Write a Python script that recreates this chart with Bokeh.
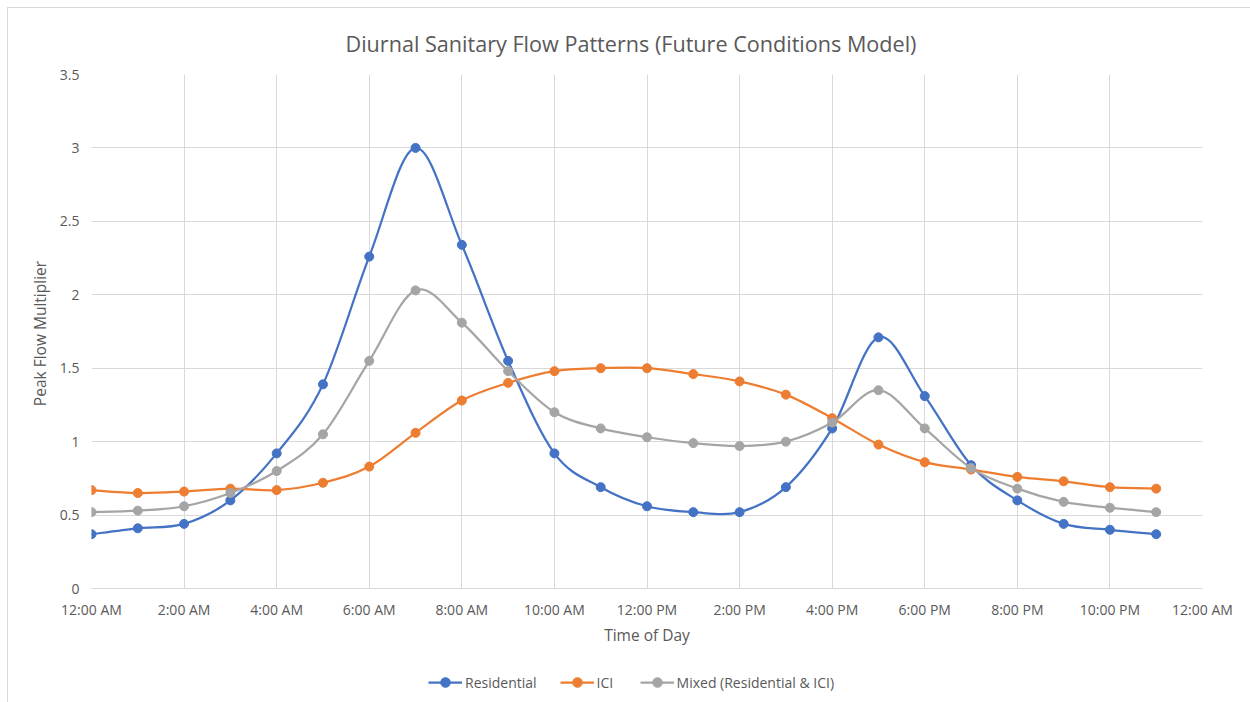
import numpy as np
from bokeh.plotting import figure
from bokeh.layouts import column
from bokeh.models import FixedTicker, Legend, LegendItem, Title
from bokeh.embed import file_html
from bokeh.resources import INLINE

# ---- data ----
hours = list(range(24))
residential = [0.37, 0.41, 0.44, 0.60, 0.92, 1.39, 2.26, 3.00, 2.34, 1.55, 0.92, 0.69,
               0.56, 0.52, 0.52, 0.69, 1.09, 1.71, 1.31, 0.84, 0.60, 0.44, 0.40, 0.37]
ici = [0.67, 0.65, 0.66, 0.68, 0.67, 0.72, 0.83, 1.06, 1.28, 1.40, 1.48, 1.50,
       1.50, 1.46, 1.41, 1.32, 1.16, 0.98, 0.86, 0.81, 0.76, 0.73, 0.69, 0.68]
mixed = [0.52, 0.53, 0.56, 0.65, 0.80, 1.05, 1.55, 2.03, 1.81, 1.48, 1.20, 1.09,
         1.03, 0.99, 0.97, 1.00, 1.13, 1.35, 1.09, 0.82, 0.68, 0.59, 0.55, 0.52]
series_names = ["Residential", "ICI", "Mixed (Residential & ICI)"]
x_ticks = [0, 2, 4, 6, 8, 10, 12, 14, 16, 18, 20, 22, 24]
x_tick_labels = ["12:00 AM", "2:00 AM", "4:00 AM", "6:00 AM", "8:00 AM", "10:00 AM",
                 "12:00 PM", "2:00 PM", "4:00 PM", "6:00 PM", "8:00 PM", "10:00 PM", "12:00 AM"]
y_ticks = [0, 0.5, 1, 1.5, 2, 2.5, 3, 3.5]

colors = ["#4472C4", "#ED7D31", "#A5A5A5"]
FONT = "Open Sans"
TXT = "#595959"
GRID = "#d9d9d9"


def smooth_segments(x, y):
    """Bezier control points (Catmull-Rom style, like a smoothed line)."""
    x = np.asarray(x, float)
    y = np.asarray(y, float)
    n = len(x)
    xp = np.concatenate([[x[0]], x, [x[-1]]])
    yp = np.concatenate([[y[0]], y, [y[-1]]])
    cx0 = xp[1:n] + (xp[2:n + 1] - xp[0:n - 1]) / 6
    cy0 = yp[1:n] + (yp[2:n + 1] - yp[0:n - 1]) / 6
    cx1 = xp[2:n + 1] - (xp[3:n + 2] - xp[1:n]) / 6
    cy1 = yp[2:n + 1] - (yp[3:n + 2] - yp[1:n]) / 6
    return dict(x0=x[:-1], y0=y[:-1], x1=x[1:], y1=y[1:],
                cx0=cx0, cy0=cy0, cx1=cx1, cy1=cy1)


OFF = 8  # outer chart-area border offset
p = figure(width=1250 - OFF, height=660 - OFF, output_backend="svg", toolbar_location=None,
           x_range=(0, 24), y_range=(0, 3.5),
           min_border_left=91 - OFF, min_border_right=48, min_border_top=74 - OFF,
           min_border_bottom=72)
p.background_fill_color = "white"
p.border_fill_color = "white"
p.outline_line_color = None

title = Title(text="Diurnal Sanitary Flow Patterns (Future Conditions Model)",
              align="left", text_font=FONT, text_font_size="21.6px",
              text_font_style="normal", text_color=TXT, standoff=34, offset=254)
p.add_layout(title, "above")

# axes
p.xaxis.ticker = FixedTicker(ticks=x_ticks)
p.xaxis.major_label_overrides = {t: l for t, l in zip(x_ticks, x_tick_labels)}
p.yaxis.ticker = FixedTicker(ticks=y_ticks)
p.yaxis.major_label_overrides = {0: "0", 1: "1", 2: "2", 3: "3"}
for ax in (p.xaxis, p.yaxis):
    ax.major_tick_line_color = None
    ax.minor_tick_line_color = None
    ax.major_label_text_font = FONT
    ax.major_label_text_font_size = "14px"
    ax.major_label_text_color = TXT
    ax.axis_label_text_font = FONT
    ax.axis_label_text_font_size = "15.5px"
    ax.axis_label_text_font_style = "normal"
    ax.axis_label_text_color = TXT
p.xaxis.axis_line_color = GRID
p.yaxis.axis_line_color = None
p.xaxis.axis_label = "Time of Day"
p.yaxis.axis_label = "Peak Flow  Multiplier"
p.xaxis.major_label_standoff = 5
p.xaxis.axis_label_standoff = 2
p.yaxis.major_label_standoff = 6
p.yaxis.axis_label_standoff = 6

p.xgrid.ticker = FixedTicker(ticks=x_ticks)
p.ygrid.ticker = FixedTicker(ticks=y_ticks)
p.xgrid.grid_line_color = GRID
p.ygrid.grid_line_color = GRID
p.xgrid.grid_line_width = 1
p.ygrid.grid_line_width = 1

all_series = [residential, ici, mixed]
for name, vals, col in zip(series_names, all_series, colors):
    seg = smooth_segments(hours, vals)
    p.bezier(line_color=col, line_width=2.25, **seg)
    p.scatter(hours, vals, size=9, fill_color=col, line_color=col)

# legend strip: its own small figure whose ranges keep the series out of view,
# so only the legend swatches show
pl = figure(width=1250 - OFF, height=42, output_backend="svg", toolbar_location=None,
            x_range=(100, 101), y_range=(100, 101), min_border=0)
pl.axis.visible = False
pl.grid.visible = False
pl.outline_line_color = None
pl.background_fill_color = "white"
pl.border_fill_color = "white"
items = []
for name, vals, col in zip(series_names, all_series, colors):
    rl = pl.line(hours, vals, line_color=col, line_width=2.25)
    rs = pl.scatter(hours, vals, size=9, fill_color=col, line_color=col)
    items.append(LegendItem(label=name, renderers=[rl, rs]))
legend = Legend(items=items, orientation="horizontal", location=(337, 8),
                label_text_font=FONT, label_text_font_size="14px",
                label_text_color=TXT, glyph_width=34, glyph_height=24,
                spacing=23, label_standoff=3, border_line_color=None,
                background_fill_alpha=0, margin=0, padding=0)
pl.add_layout(legend, "center")

layout = column(p, pl, spacing=0, margin=(OFF - 1, 0, 0, OFF - 1),
                styles={"border-top": "1px solid #d9d9d9",
                        "border-left": "1px solid #d9d9d9",
                        "background-color": "white"})

open("out.html", "w").write(file_html(layout, INLINE))
